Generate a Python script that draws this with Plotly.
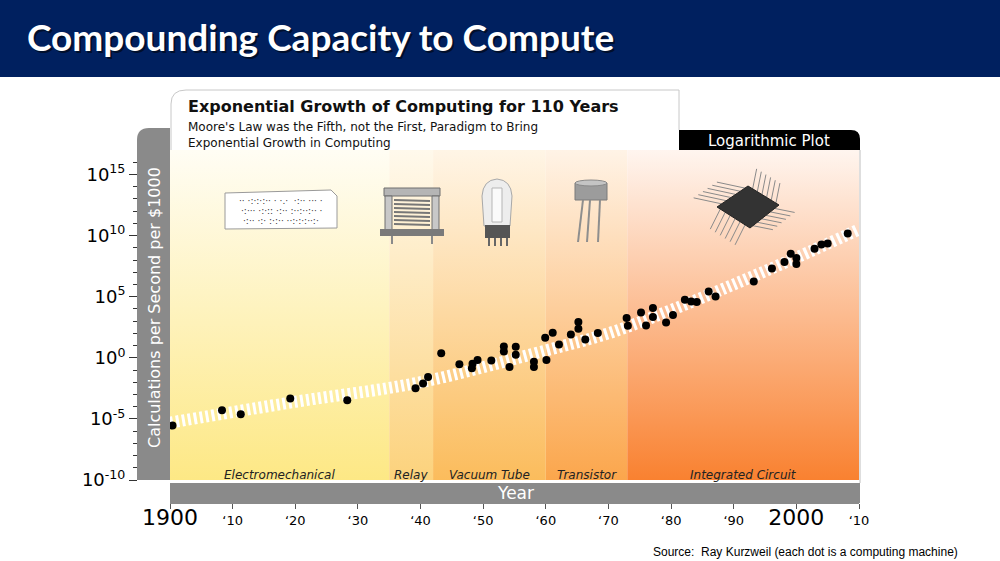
import plotly.graph_objects as go

# --- data -------------------------------------------------------------
band_names = ["Electromechanical", "Relay", "Vacuum Tube", "Transistor", "Integrated Circuit"]
band_start = [1900, 1935, 1942, 1960, 1973]
band_end = [1935, 1942, 1960, 1973, 2010]
band_bottom = ["#FDE885", "#FCD27C", "#FBBC5C", "#FBA64C", "#F98130"]
band_top = ["#FFFDF4", "#FFF9EC", "#FFF5E6", "#FFF3E6", "#FFF5EF"]

# each dot is a computing machine (year, log10 of calculations/sec per $1000)
dot_year = [1900.4, 1908.3, 1911.3, 1919.2, 1928.3, 1939.2, 1940.4, 1941.2, 1943.3,
            1946.2, 1948.2, 1948.3, 1949.1, 1951.3, 1953.3, 1953.3, 1954.2, 1955.2,
            1955.2, 1958.1, 1958.1, 1959.9, 1960.1, 1961.1, 1962.1, 1964.0, 1965.2,
            1965.2, 1966.3, 1968.3, 1972.9, 1973.1, 1975.2, 1976.0, 1977.1, 1977.1,
            1979.2, 1980.3, 1982.2, 1983.2, 1984.1, 1986.0, 1987.1, 1993.2, 1996.1,
            1998.1, 1999.1, 2000.0, 2000.0, 2002.9, 2004.0, 2005.0, 2008.2]
dot_log10 = [-5.55, -4.29, -4.62, -3.33, -3.47, -2.49, -2.10, -1.58, 0.38,
             -0.52, -0.85, -0.49, -0.19, -0.22, 0.93, 0.52, -0.76, 0.90,
             0.25, -0.33, -0.76, 1.64, -0.19, 2.05, 1.09, 1.91, 2.38,
             2.92, 1.50, 2.02, 3.25, 2.62, 3.71, 2.65, 4.07, 3.33,
             2.89, 3.50, 4.75, 4.61, 4.56, 5.43, 5.02, 6.25, 7.30,
             7.84, 8.52, 8.17, 7.68, 8.93, 9.26, 9.34, 10.16]

trend_year = [1900, 1920, 1940, 1960, 1970, 1980, 1990, 2000, 2010]
trend_log10 = [-5.3, -3.6, -2.0, 0.6, 2.0, 3.9, 6.0, 8.2, 10.5]

x_tickvals = [1900, 1910, 1920, 1930, 1940, 1950, 1960, 1970, 1980, 1990, 2000, 2010]
x_ticktext = ["<span style='font-size:22px'>1900</span>", "‘10", "‘20", "‘30", "‘40", "‘50",
              "‘60", "‘70", "‘80", "‘90", "<span style='font-size:22px'>2000</span>", "‘10"]
y_exponents = [-10, -5, 0, 5, 10, 15]

W, H = 1000, 561
GRAY = "#8A8A8A"
FONT = "DejaVu Sans"


def px(x):
    return x / W


def py(y):
    return 1 - y / H


def path(points, close=True):
    s = "M " + " L ".join(f"{px(a):.5f},{py(b):.5f}" for a, b in points)
    return s + (" Z" if close else "")


fig = go.Figure()

# colored era bands (vertical gradients)
for name, x0, x1, cb, ct in zip(band_names, band_start, band_end, band_bottom, band_top):
    fig.add_trace(go.Scatter(
        x=[x0, x1, x1, x0, x0], y=[1e-10, 1e-10, 1e17, 1e17, 1e-10],
        mode="lines", line=dict(width=0), fill="toself",
        fillgradient=dict(type="vertical", colorscale=[[0, cb], [1, ct]]),
        hoverinfo="skip", showlegend=False))

# hatched trend band
fig.add_trace(go.Scatter(
    x=trend_year, y=[10 ** v for v in trend_log10], mode="lines",
    line=dict(color="white", width=12, dash="3px,3px", shape="spline"),
    hoverinfo="skip", showlegend=False))

# machines
fig.add_trace(go.Scatter(
    x=dot_year, y=[10 ** v for v in dot_log10], mode="markers",
    marker=dict(color="black", size=8), showlegend=False))

shapes = []
# title bar
shapes.append(dict(type="rect", xref="paper", yref="paper", x0=0, x1=1, y0=py(77), y1=1,
                   fillcolor="#00205F", line_width=0))
# white header box
shapes.append(dict(type="path", xref="paper", yref="paper",
                   path=f"M {px(171)},{py(150)} L {px(171)},{py(104)} Q {px(171)},{py(90)} {px(186)},{py(90)} "
                        f"L {px(679)},{py(90)} L {px(679)},{py(150)} Z",
                   fillcolor="white", line_width=0))
shapes.append(dict(type="path", xref="paper", yref="paper",
                   path=f"M {px(171)},{py(150)} L {px(171)},{py(104)} Q {px(171)},{py(90)} {px(186)},{py(90)} "
                        f"L {px(679)},{py(90)} L {px(679)},{py(130)}",
                   fillcolor="rgba(0,0,0,0)", line=dict(color="#C8C8C8", width=1)))
# logarithmic plot tab
shapes.append(dict(type="path", xref="paper", yref="paper",
                   path=f"M {px(679)},{py(150)} L {px(679)},{py(130)} L {px(851)},{py(130)} "
                        f"Q {px(860)},{py(130)} {px(860)},{py(139)} L {px(860)},{py(150)} Z",
                   fillcolor="black", line_width=0))
# right border
shapes.append(dict(type="line", xref="paper", yref="paper", x0=px(860), x1=px(860),
                   y0=py(150), y1=py(483), line=dict(color="#BDBDBD", width=1)))
# left gray bar
shapes.append(dict(type="path", xref="paper", yref="paper",
                   path=f"M {px(137)},{py(480)} L {px(137)},{py(140)} Q {px(137)},{py(128)} {px(149)},{py(128)} "
                        f"L {px(170)},{py(128)} L {px(170)},{py(480)} Z",
                   fillcolor=GRAY, line_width=0))
# year bar
shapes.append(dict(type="rect", xref="paper", yref="paper", x0=px(170), x1=px(860),
                   y0=py(503), y1=py(483), fillcolor=GRAY, line_width=0))

# --- icons -------------------------------------------------------------
# punch card
shapes.append(dict(type="path", xref="paper", yref="paper",
                   path=path([(225, 193), (331, 190), (337, 196), (337, 228), (225, 229)]),
                   fillcolor="white", line=dict(color="#9A9A9A", width=1)))
# relay
shapes.append(dict(type="rect", xref="paper", yref="paper", x0=px(384), x1=px(440), y0=py(196), y1=py(188),
                   fillcolor="#B5B5B5", line=dict(color="#6E6E6E", width=1)))
shapes.append(dict(type="rect", xref="paper", yref="paper", x0=px(385), x1=px(392), y0=py(230), y1=py(196),
                   fillcolor="#C8C8C8", line=dict(color="#6E6E6E", width=1)))
shapes.append(dict(type="rect", xref="paper", yref="paper", x0=px(432), x1=px(439), y0=py(230), y1=py(196),
                   fillcolor="#C8C8C8", line=dict(color="#6E6E6E", width=1)))
for yy in range(200, 228, 4):
    shapes.append(dict(type="line", xref="paper", yref="paper", x0=px(394), x1=px(430), y0=py(yy), y1=py(yy + 1),
                       line=dict(color="#777777", width=2)))
shapes.append(dict(type="rect", xref="paper", yref="paper", x0=px(380), x1=px(444), y0=py(236), y1=py(229),
                   fillcolor="#7A7A7A", line_width=0))
for xx in (392, 432):
    shapes.append(dict(type="line", xref="paper", yref="paper", x0=px(xx), x1=px(xx), y0=py(236), y1=py(244),
                       line=dict(color="#8A8A8A", width=2)))
# vacuum tube
shapes.append(dict(type="path", xref="paper", yref="paper",
                   path=f"M {px(484)},{py(226)} L {px(482)},{py(196)} Q {px(483)},{py(180)} {px(497)},{py(179)} "
                        f"Q {px(511)},{py(180)} {px(512)},{py(196)} L {px(510)},{py(226)} Z",
                   fillcolor="#EDEDED", line=dict(color="#A8A8A8", width=1)))
shapes.append(dict(type="rect", xref="paper", yref="paper", x0=px(492), x1=px(502), y0=py(222), y1=py(188),
                   fillcolor="#FAFAFA", line=dict(color="#B5B5B5", width=1)))
shapes.append(dict(type="rect", xref="paper", yref="paper", x0=px(485), x1=px(510), y0=py(238), y1=py(225),
                   fillcolor="#555555", line_width=0))
for xx in (489, 495, 501, 507):
    shapes.append(dict(type="line", xref="paper", yref="paper", x0=px(xx), x1=px(xx), y0=py(238), y1=py(246),
                       line=dict(color="#666666", width=2)))
# transistor
shapes.append(dict(type="rect", xref="paper", yref="paper", x0=px(575), x1=px(607), y0=py(200), y1=py(183),
                   fillcolor="#9C9C9C", line=dict(color="#7A7A7A", width=1)))
shapes.append(dict(type="circle", xref="paper", yref="paper", x0=px(575), x1=px(607), y0=py(186), y1=py(180),
                   fillcolor="#C4C4C4", line=dict(color="#8A8A8A", width=1)))
for xa, xb in ((583, 578), (590, 587), (600, 598)):
    shapes.append(dict(type="line", xref="paper", yref="paper", x0=px(xa), x1=px(xb), y0=py(200), y1=py(242),
                       line=dict(color="#8E8E8E", width=2)))
# integrated circuit
corners = [(717, 207), (748, 186), (779, 205), (750, 228)]
offsets = [(-28, -6), (4, -20), (20, 4), (-10, 20)]
for k in range(4):
    (ax, ay), (bx, by) = corners[k], corners[(k + 1) % 4]
    ox, oy = offsets[k]
    for t in (0.15, 0.3, 0.45, 0.6, 0.75, 0.9):
        sx, sy = ax + (bx - ax) * t, ay + (by - ay) * t
        shapes.append(dict(type="line", xref="paper", yref="paper", x0=px(sx), x1=px(sx + ox),
                           y0=py(sy), y1=py(sy + oy), line=dict(color="#8A8A8A", width=1)))
shapes.append(dict(type="path", xref="paper", yref="paper", path=path(corners),
                   fillcolor="#333333", line=dict(color="#222222", width=1)))

annotations = [
    dict(text="<b>Compounding Capacity to Compute</b>", x=px(27), y=py(38), xanchor="left", yanchor="middle",
         font=dict(family="Lato", size=37, color="rgba(0,0,0,0.55)"), showarrow=False, xref="paper", yref="paper"),
    dict(text="<b>Compounding Capacity to Compute</b>", x=px(25), y=py(36), xanchor="left", yanchor="middle",
         font=dict(family="Lato", size=37, color="white"), showarrow=False, xref="paper", yref="paper"),
    dict(text="<b>Exponential Growth of Computing for 110 Years</b>", x=px(186), y=py(107), xanchor="left",
         yanchor="middle", font=dict(family=FONT, size=16, color="#111111"), showarrow=False,
         xref="paper", yref="paper"),
    dict(text="Moore's Law was the Fifth, not the First, Paradigm to Bring<br>Exponential Growth in Computing",
         x=px(186), y=py(118), xanchor="left", yanchor="top", align="left",
         font=dict(family=FONT, size=12, color="#111111"), showarrow=False, xref="paper", yref="paper"),
    dict(text="Logarithmic Plot", x=px(769), y=py(141), xanchor="center", yanchor="middle",
         font=dict(family=FONT, size=15, color="white"), showarrow=False, xref="paper", yref="paper"),
    dict(text="Calculations per Second per $1000", x=px(154), y=py(308), textangle=-90,
         xanchor="center", yanchor="middle", font=dict(family=FONT, size=16, color="white"),
         showarrow=False, xref="paper", yref="paper"),
    dict(text="Year", x=px(515), y=py(493), xanchor="center", yanchor="middle",
         font=dict(family=FONT, size=17, color="white"), showarrow=False, xref="paper", yref="paper"),
    dict(text="Source:  Ray Kurzweil (each dot is a computing machine)", x=px(960), y=py(552),
         xanchor="right", yanchor="middle", font=dict(family="Liberation Sans", size=12, color="black"),
         showarrow=False, xref="paper", yref="paper"),
]
# era labels centred on each band
for name, x0, x1 in zip(band_names, band_start, band_end):
    annotations.append(dict(text=f"<i>{name}</i>", x=(x0 + x1) / 2, xref="x", y=py(475), yref="paper",
                            xanchor="center", yanchor="middle", showarrow=False,
                            font=dict(family=FONT, size=12, color="#222222")))
# punch card holes
for i, row in enumerate(["·· ·:·:·:·· · ·.·  ·:·· ··· ·", "·:··· ·:·:: ·:·· :··:··:·· ·", "·:·· ·:· :·:·· ··:·:·:··:·"]):
    annotations.append(dict(text=row, x=px(281), y=py(201 + i * 10), xref="paper", yref="paper",
                            xanchor="center", yanchor="middle",
                            showarrow=False, font=dict(family=FONT, size=9, color="#333333")))

fig.update_layout(
    width=W, height=H, margin=dict(l=0, r=0, t=0, b=0),
    paper_bgcolor="white", plot_bgcolor="white", showlegend=False,
    shapes=shapes, annotations=annotations,
    xaxis=dict(domain=[px(170), px(859)], range=[1900, 2010], anchor="free", position=py(503),
               automargin=False,
               tickvals=x_tickvals, ticktext=x_ticktext, ticks="outside", ticklen=5,
               tickcolor="#555555", showline=True, linecolor="#8A8A8A", showgrid=False, zeroline=False,
               tickfont=dict(family=FONT, size=13, color="black")),
    yaxis=dict(domain=[py(480), py(150)], type="log", range=[-10, 17], anchor="free", position=px(137),
               automargin=False,
               tickvals=[10.0 ** e for e in y_exponents],
               ticktext=[f"10<sup>{e}</sup>" for e in y_exponents],
               ticks="outside", ticklen=8, tickcolor="#333333", showline=True, linecolor="#333333",
               minor=dict(tickvals=[10.0 ** e for e in range(-10, 17)], ticklen=4, tickcolor="#333333",
                          ticks="outside"),
               showgrid=False, zeroline=False, tickfont=dict(family=FONT, size=18, color="black")),
)

fig.write_html("out.html", config={"displayModeBar": False},
               post_script="document.body.style.margin='0';")
